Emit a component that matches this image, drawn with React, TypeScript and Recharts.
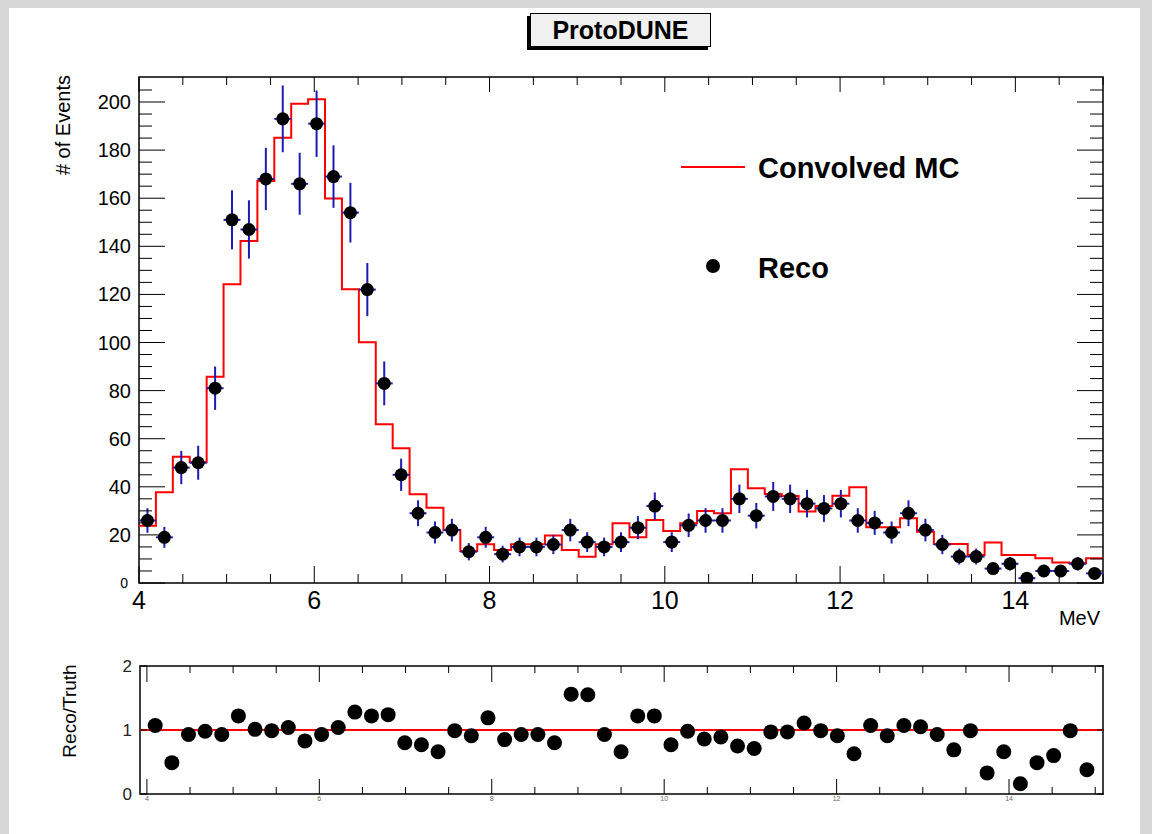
import { ComposedChart, Line, Scatter, ErrorBar, XAxis, YAxis, ReferenceArea, ReferenceLine } from 'recharts';

const FONT = '"Liberation Sans", Arial, Helvetica, sans-serif';

// histogram binning (57 bins from 4 to 15 MeV)
const binLow = 4;
const binHigh = 15;
const nBins = 57;

const recoCounts = [
  26, 19, 48, 50, 81, 151, 147, 168, 193, 166, 191, 169, 154, 122, 83, 45, 29, 21, 22, 13,
  19, 12, 15, 15, 16, 22, 17, 15, 17, 23, 32, 17, 24, 26, 26, 35, 28, 36, 35, 33,
  31, 33, 26, 25, 21, 29, 22, 16, 11, 11, 6, 8, 2, 5, 5, 8, 4,
];

const mcCounts = [
  23.8, 37.7, 52.5, 50.2, 85.8, 124.2, 142.2, 167.2, 185.1, 199.3, 201.1, 159.9, 122.1, 100.1, 66, 56, 36.9, 31.3, 22, 13.3,
  16.1, 13.7, 16.1, 16.1, 19.7, 13.7, 10.9, 16.1, 24.8, 19, 26.2, 21.6, 24.8, 29.9, 29, 47.3, 39.4, 37, 36.2, 29.7,
  32, 36.3, 39.8, 23.2, 23.2, 26.9, 21.3, 16.2, 16.2, 11.6, 16.8, 11.6, 11.6, 10.3, 8.5, 8.2, 10.3,
];

const ratioValues = [
  1.07, 0.49, 0.93, 0.98, 0.93, 1.22, 1.01, 0.99, 1.04, 0.83, 0.93, 1.04, 1.28, 1.22, 1.24, 0.8, 0.77, 0.66, 0.99, 0.91,
  1.19, 0.85, 0.93, 0.93, 0.8, 1.56, 1.55, 0.93, 0.66, 1.22, 1.22, 0.77, 0.98, 0.86, 0.89, 0.75, 0.71, 0.97, 0.97, 1.11,
  0.99, 0.91, 0.63, 1.07, 0.91, 1.07, 1.05, 0.93, 0.69, 0.99, 0.33, 0.66, 0.16, 0.49, 0.6, 0.99, 0.38,
];

const xMajorTicks = [4, 6, 8, 10, 12, 14];
const xAllTicks = [4, 4.5, 5, 5.5, 6, 6.5, 7, 7.5, 8, 8.5, 9, 9.5, 10, 10.5, 11, 11.5, 12, 12.5, 13, 13.5, 14, 14.5, 15];
const yMajorTicks = [0, 20, 40, 60, 80, 100, 120, 140, 160, 180, 200];
const yAllTicks = [
  0, 5, 10, 15, 20, 25, 30, 35, 40, 45, 50, 55, 60, 65, 70, 75, 80, 85, 90, 95, 100,
  105, 110, 115, 120, 125, 130, 135, 140, 145, 150, 155, 160, 165, 170, 175, 180, 185, 190, 195, 200, 205,
];
const ratioYTicks = [0, 1, 2];

const binWidth = (binHigh - binLow) / nBins;
const edges = Array.from({ length: nBins + 1 }, (_, i) => binLow + i * binWidth);
const mcSteps = edges.map((x, i) => ({ x, mc: mcCounts[Math.min(i, nBins - 1)] }));
const recoPoints = recoCounts.map((y, i) => ({
  x: binLow + (i + 0.5) * binWidth,
  y,
  ey: Math.sqrt(y),
  ex: binWidth / 2,
}));
const ratioPoints = ratioValues.map((r, i) => ({ x: binLow + (i + 0.5) * binWidth, r }));

const TOP_W = 964;
const TOP_H = 506;
const RAT_H = 128;
const Y_MAX = 210.4;

const ERR_BLUE = '#1c1cb0';

const XTick = (p: any) => {
  const { x, y, payload, plotH, majLen, minLen, topMaj, topMin, fontSize, labelDy, color } = p;
  const v = payload.value;
  const major = xMajorTicks.includes(v);
  return (
    <g>
      <line x1={x} y1={y} x2={x} y2={y - (major ? majLen : minLen)} stroke="#000" />
      <line x1={x} y1={y - plotH} x2={x} y2={y - plotH + (major ? topMaj : topMin)} stroke="#000" />
      {major && (
        <text x={x} y={y + labelDy} textAnchor="middle" fontSize={fontSize} fill={color} style={{ fontFamily: FONT }}>
          {v}
        </text>
      )}
    </g>
  );
};

const YTick = (p: any) => {
  const { x, y, payload } = p;
  const v = payload.value;
  const major = yMajorTicks.includes(v);
  const len = major ? 26 : 13;
  return (
    <g>
      <line x1={x} y1={y} x2={x + len} y2={y} stroke="#000" />
      <line x1={x + TOP_W} y1={y} x2={x + TOP_W - len} y2={y} stroke="#000" />
      {major && (
        <text
          x={v === 0 ? x - 11 : x - 8}
          y={y}
          dy={v === 0 ? 5 : 7}
          textAnchor="end"
          fontSize={v === 0 ? 14 : 20}
          fill="#000"
          style={{ fontFamily: FONT }}
        >
          {v}
        </text>
      )}
    </g>
  );
};

const RatioYTick = (p: any) => {
  const { x, y, payload } = p;
  const v = payload.value;
  return (
    <g>
      <line x1={x} y1={y} x2={x + 7} y2={y} stroke="#000" />
      <line x1={x + TOP_W} y1={y} x2={x + TOP_W - 7} y2={y} stroke="#000" />
      <text x={x - 8} y={y} dy={6} textAnchor="end" fontSize={17} fill="#222" style={{ fontFamily: FONT }}>
        {v}
      </text>
    </g>
  );
};

const MainPanel = () => (
  <ComposedChart width={1152} height={640} margin={{ top: 77, right: 49, bottom: 17, left: 79 }}>
    <XAxis
      type="number"
      dataKey="x"
      domain={[binLow, binHigh]}
      allowDataOverflow
      ticks={xAllTicks}
      interval={0}
      tickSize={0}
      tickMargin={0}
      axisLine={false}
      tickLine={false}
      height={40}
      tick={(p: any) => (
        <XTick {...p} plotH={TOP_H} majLen={17} minLen={9} topMaj={15} topMin={8} fontSize={25} labelDy={26} color="#000" />
      )}
    />
    <YAxis
      type="number"
      domain={[0, Y_MAX]}
      allowDataOverflow
      ticks={yAllTicks}
      interval={0}
      tickSize={0}
      tickMargin={0}
      axisLine={false}
      tickLine={false}
      width={60}
      tick={(p: any) => <YTick {...p} />}
    />
    <ReferenceArea x1={binLow} x2={binHigh} y1={0} y2={Y_MAX} fill="none" stroke="#000" strokeWidth={1.5} />
    <Line
      data={mcSteps}
      dataKey="mc"
      type="stepAfter"
      stroke="#ff0000"
      strokeWidth={2}
      dot={false}
      isAnimationActive={false}
    />
    <Scatter
      data={recoPoints}
      dataKey="y"
      isAnimationActive={false}
      shape={(p: any) => <circle cx={p.cx} cy={p.cy} r={6.5} fill="#000" />}
    >
      <ErrorBar dataKey="ey" direction="y" width={0} stroke={ERR_BLUE} strokeWidth={2} isAnimationActive={false} />
      <ErrorBar dataKey="ex" direction="x" width={0} stroke={ERR_BLUE} strokeWidth={2} isAnimationActive={false} />
    </Scatter>
  </ComposedChart>
);

const RatioPanel = () => (
  <ComposedChart width={1152} height={184} margin={{ top: 16, right: 49, bottom: 20, left: 80 }}>
    <XAxis
      type="number"
      dataKey="x"
      domain={[3.92, 15.09]}
      allowDataOverflow
      ticks={xAllTicks}
      interval={0}
      tickSize={0}
      tickMargin={0}
      axisLine={false}
      tickLine={false}
      height={20}
      tick={(p: any) => (
        <XTick {...p} plotH={RAT_H} majLen={15} minLen={7} topMaj={16} topMin={7} fontSize={7} labelDy={7} color="#666" />
      )}
    />
    <YAxis
      type="number"
      domain={[0, 2]}
      allowDataOverflow
      ticks={ratioYTicks}
      interval={0}
      tickSize={0}
      tickMargin={0}
      axisLine={false}
      tickLine={false}
      width={60}
      tick={(p: any) => <RatioYTick {...p} />}
    />
    <ReferenceArea x1={3.92} x2={15.09} y1={0} y2={2} fill="none" stroke="#000" strokeWidth={1.5} />
    <ReferenceLine y={1} stroke="#ff0000" strokeWidth={2} />
    <Scatter
      data={ratioPoints}
      dataKey="r"
      isAnimationActive={false}
      shape={(p: any) => <circle cx={p.cx} cy={p.cy} r={7.5} fill="#000" />}
    />
  </ComposedChart>
);

const Overlay = () => (
  <svg width={1152} height={834} style={{ position: 'absolute', left: 0, top: 0, pointerEvents: 'none' }}>
    <g style={{ fontFamily: FONT }}>
      {/* title box with shadow */}
      <rect x={527} y={16} width={181} height={34} fill="#000" />
      <rect x={530.5} y={13.5} width={180} height={33} fill="#f0f0f0" stroke="#000" strokeWidth={1} />
      <text x={620.5} y={39} textAnchor="middle" fontSize={25} fontWeight="bold" fill="#000">
        ProtoDUNE
      </text>

      {/* axis titles */}
      <text transform="translate(70,75) rotate(-90)" textAnchor="end" fontSize={20} fill="#000">
        # of Events
      </text>
      <text x={1100} y={625} textAnchor="end" fontSize={20} fill="#000">
        MeV
      </text>
      <text transform="translate(76,711) rotate(-90)" textAnchor="middle" fontSize={19} fill="#000">
        Reco/Truth
      </text>

      {/* legend */}
      <line x1={681} y1={167} x2={745} y2={167} stroke="#ff0000" strokeWidth={2} />
      <text x={758} y={178} fontSize={29} fontWeight="bold" fill="#000">
        Convolved MC
      </text>
      <circle cx={713} cy={266} r={7} fill="#000" />
      <text x={758} y={278} fontSize={29} fontWeight="bold" fill="#000">
        Reco
      </text>
    </g>
  </svg>
);

export default function App() {
  return (
    <div style={{ position: 'absolute', left: 0, top: 0, width: 1152, height: 834, background: '#d7d7d7', overflow: 'hidden' }}>
      <div style={{ position: 'absolute', left: 9, top: 8, width: 1131, height: 826, background: '#fff' }} />
      <div style={{ position: 'absolute', left: 0, top: 0 }}>
        <MainPanel />
      </div>
      <div style={{ position: 'absolute', left: 0, top: 650 }}>
        <RatioPanel />
      </div>
      <Overlay />
    </div>
  );
}
